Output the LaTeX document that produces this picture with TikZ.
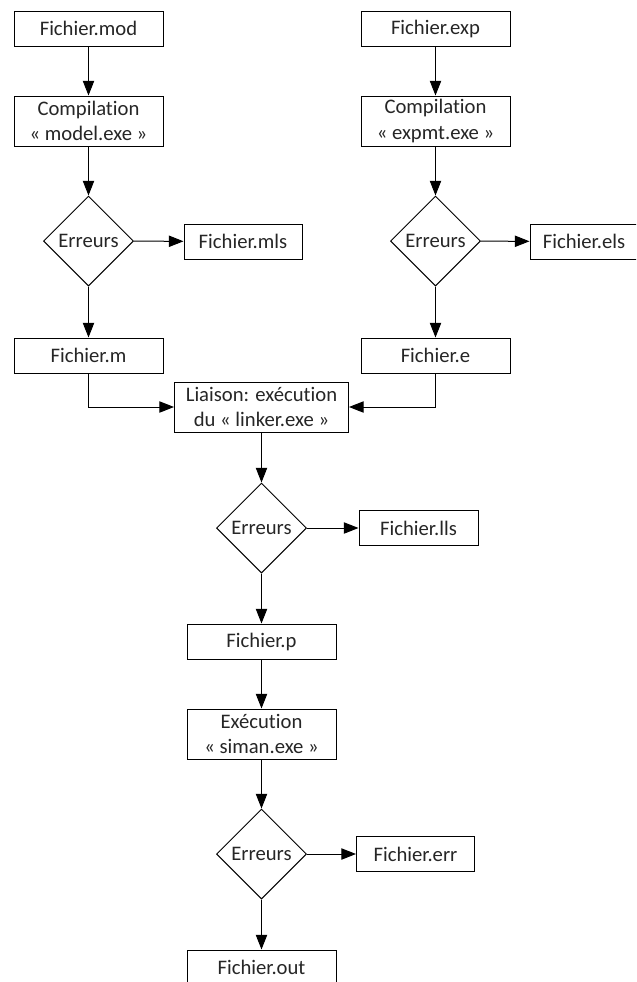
\documentclass[tikz,border=0pt]{standalone}
\usepackage{fontspec}
\setmainfont{Carlito}[Ligatures={NoCommon,NoRare,NoContextual}]
\usetikzlibrary{shapes.geometric,arrows.meta}
\begin{document}
\begin{tikzpicture}[x=0.75pt,y=-0.75pt,
  every node/.style={font=\fontsize{15.5pt}{19pt}\selectfont, text=black!85, line width=0.75pt},
  box/.style={draw, rectangle, inner sep=0pt, minimum width=111.75pt, minimum height=26.25pt, align=center},
  tall/.style={box, minimum height=37.5pt},
  dec/.style={draw, diamond, inner sep=0pt, minimum width=67.5pt, minimum height=67.5pt},
  conn/.style={line width=0.75pt, -{Triangle[length=11pt,width=8.5pt]}}]
\clip (0,0) rectangle (636,982);
\fill[white] (0,0) rectangle (636,982);
% left column
\node[box] (mod) at (88.5,28.5) {Fichier.mod};
\node[tall] (c1) at (88.5,121) {Compilation\\« model.exe »};
\node[dec] (d1) at (88.5,241) {Erreurs};
\node[box, minimum width=88.5pt] (mls) at (243,241.5) {Fichier.mls};
\node[box] (fm) at (88.5,355.5) {Fichier.m};
% right column
\node[box] (exp) at (435.5,28.5) {Fichier.exp};
\node[tall] (c2) at (435.5,121) {Compilation\\« expmt.exe »};
\node[dec] (d2) at (435.5,241) {Erreurs};
\node[box, minimum width=81pt] (els) at (584,241.5) {Fichier.els};
\node[box] (fe) at (435.5,355.5) {Fichier.e};
% centre
\node[tall, minimum width=130.5pt] (lk) at (261.5,407) {Liaison: exécution\\du « linker.exe »};
\node[dec] (d3) at (261.5,528) {Erreurs};
\node[box, minimum width=89.25pt] (lls) at (418.5,528) {Fichier.lls};
\node[box] (fp) at (261.5,641.5) {Fichier.p};
\node[tall] (ex) at (261.5,734) {Exécution\\« siman.exe »};
\node[dec] (d4) at (261.5,854) {Erreurs};
\node[box, minimum width=88.5pt] (err) at (415.5,854) {Fichier.err};
\node[box] (out) at (261.5,967.5) {Fichier.out};
% connectors
\draw[conn] (mod) -- (c1);
\draw[conn] (c1) -- (d1);
\draw[conn] (d1) -- (mls);
\draw[conn] (d1) -- (fm);
\draw[conn] (exp) -- (c2);
\draw[conn] (c2) -- (d2);
\draw[conn] (d2) -- (els);
\draw[conn] (d2) -- (fe);
\draw[conn] (fm.south) |- (lk.west);
\draw[conn] (fe.south) |- (lk.east);
\draw[conn] (lk) -- (d3);
\draw[conn] (d3) -- (lls);
\draw[conn] (d3) -- (fp);
\draw[conn] (fp) -- (ex);
\draw[conn] (ex) -- (d4);
\draw[conn] (d4) -- (err);
\draw[conn] (d4) -- (out);
\end{tikzpicture}
\end{document}
